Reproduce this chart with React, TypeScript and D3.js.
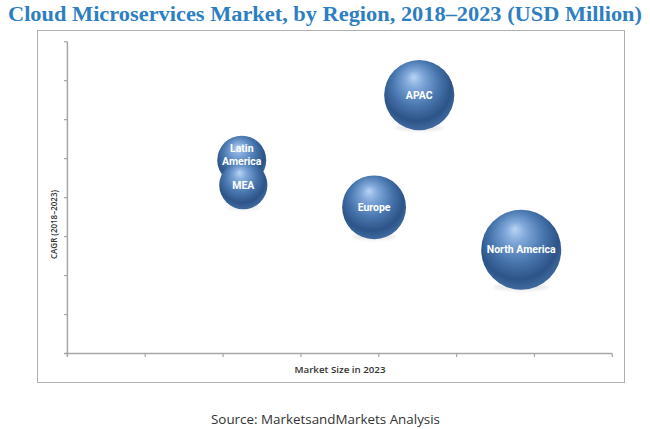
import React from "react";
import * as d3 from "d3";

const regions = ["APAC", "North America", "Europe", "Latin America", "MEA"];
const marketSize = [4.52, 5.83, 3.94, 2.24, 2.26];
const cagr = [6.63, 2.66, 3.75, 4.96, 4.32];
const bubbleSize = [12.3, 16, 10.2, 6.0, 5.8];
const labelLines: string[][] = [["APAC"], ["North America"], ["Europe"], ["Latin", "America"], ["MEA"]];

const W = 650;
const H = 429;
const X0 = 67.4, X1 = 612.3;
const Y0 = 353.5, Y1 = 41.7;

export default function App() {
  const x = d3.scaleLinear().domain([0, 7]).range([X0, X1]);
  const y = d3.scaleLinear().domain([0, 8]).range([Y0, Y1]);
  const r = d3.scaleSqrt().domain([0, 16]).range([0, 40]);
  const xTicks = d3.range(0, 8);
  const yTicks = d3.range(0, 9);
  const axisColor = "#a6a6a6";
  const idx = d3.range(regions.length);

  return (
    <svg width={W} height={H} style={{ position: "absolute", left: 0, top: 0 }}>
      <defs>
        <radialGradient id="sphere" cx="47%" cy="40%" r="58%" fx="42%" fy="24%">
          <stop offset="0%" stopColor="#b8d4f4" />
          <stop offset="22%" stopColor="#80a8da" />
          <stop offset="55%" stopColor="#4a78b0" />
          <stop offset="85%" stopColor="#2d5488" />
          <stop offset="100%" stopColor="#3d679c" />
        </radialGradient>
        <filter id="soft" x="-20%" y="-50%" width="140%" height="200%">
          <feGaussianBlur stdDeviation="1.5" />
        </filter>
      </defs>
      <rect x={0} y={0} width={W} height={H} fill="#ffffff" />
      <text
        x={325}
        y={21}
        textAnchor="middle"
        fontFamily="'Liberation Serif', 'DejaVu Serif', serif"
        fontWeight="bold"
        fontSize={20}
        fill="#2e7fc2"
        textLength={634}
        lengthAdjust="spacingAndGlyphs"
      >
        Cloud Microservices Market, by Region, 2018–2023 (USD Million)
      </text>
      <rect x={37.5} y={30.5} width={587} height={352} fill="none" stroke="#b0b0b0" strokeWidth={1} />

      <line x1={X0} x2={X0} y1={Y1} y2={Y0 + 3} stroke={axisColor} strokeWidth={1.5} />
      <line x1={X0 - 3} x2={X1} y1={Y0} y2={Y0} stroke={axisColor} strokeWidth={1.5} />
      {yTicks.map((t) => (
        <line key={"y" + t} x1={X0 - 3.5} x2={X0} y1={y(t)} y2={y(t)} stroke={axisColor} strokeWidth={1.2} />
      ))}
      {xTicks.map((t) => (
        <line key={"x" + t} x1={x(t)} x2={x(t)} y1={Y0} y2={Y0 + 3.5} stroke={axisColor} strokeWidth={1.2} />
      ))}

      <text
        transform={`translate(57, 224.5) rotate(-90)`}
        textAnchor="middle"
        fontFamily="'Open Sans', sans-serif"
        fontWeight={600}
        fontSize={9}
        fill="#333"
        textLength={69}
        lengthAdjust="spacingAndGlyphs"
      >
        CAGR (2018–2023)
      </text>
      <text
        x={340}
        y={373}
        textAnchor="middle"
        fontFamily="'Open Sans', sans-serif"
        fontWeight={600}
        fontSize={9}
        fill="#333"
        textLength={91}
        lengthAdjust="spacingAndGlyphs"
      >
        Market Size in 2023
      </text>

      {idx.map((i) => {
        const cx = x(marketSize[i]);
        const cy = y(cagr[i]);
        const rr = r(bubbleSize[i]);
        return (
          <g key={"b" + regions[i]}>
            <ellipse cx={cx} cy={cy + rr * 0.93} rx={rr * 0.7} ry={rr * 0.1} fill="#000" opacity={0.08} filter="url(#soft)" />
            <circle cx={cx} cy={cy} r={rr} fill="url(#sphere)" />
          </g>
        );
      })}
      {idx.map((i) => {
        const cx = x(marketSize[i]);
        const cy = y(cagr[i]);
        const lines = labelLines[i];
        const off = lines.length > 1 ? -5 : 0;
        return (
          <g key={"l" + regions[i]}>
            {lines.map((ln, k) => (
              <text
                key={k}
                x={cx}
                y={cy + off + (k - (lines.length - 1) / 2) * 13 + 3.5}
                textAnchor="middle"
                fontFamily="Roboto, 'Open Sans', sans-serif"
                fontWeight="bold"
                fontSize={10.5}
                fill="#ffffff"
              >
                {ln}
              </text>
            ))}
          </g>
        );
      })}

      <text
        x={325.5}
        y={424}
        textAnchor="middle"
        fontFamily="'Open Sans', sans-serif"
        fontSize={12.5}
        fill="#333"
        textLength={229}
        lengthAdjust="spacingAndGlyphs"
      >
        Source: MarketsandMarkets Analysis
      </text>
    </svg>
  );
}
